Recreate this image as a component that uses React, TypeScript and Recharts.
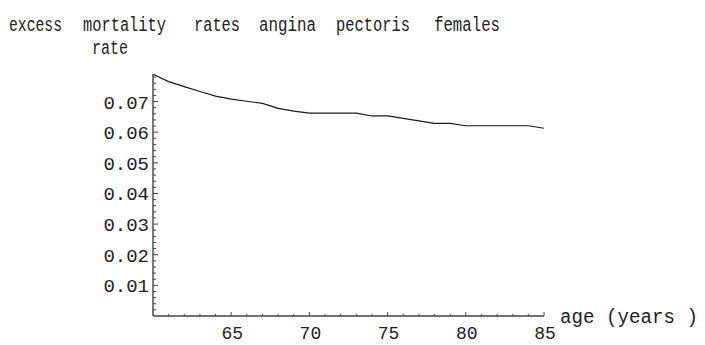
import { LineChart, Line, XAxis, YAxis } from "recharts";

// yearly excess mortality rate, ages 60..85
const ages = [60, 61, 62, 63, 64, 65, 66, 67, 68, 69, 70, 71, 72, 73, 74, 75, 76, 77, 78, 79, 80, 81, 82, 83, 84, 85];
const rates = [
  0.0789, 0.0765, 0.0749, 0.0733, 0.0718, 0.0708, 0.0701, 0.0694, 0.0678, 0.0669,
  0.0662, 0.0662, 0.0662, 0.0662, 0.0653, 0.0653, 0.0645, 0.0637, 0.0629, 0.0629,
  0.0621, 0.0621, 0.0621, 0.0621, 0.0621, 0.0613,
];

const xLabelTicks = [65, 70, 75, 80, 85];
const yLabelTicks = [0.01, 0.02, 0.03, 0.04, 0.05, 0.06, 0.07];

const titleWords = ["excess", "mortality", "rates", "angina", "pectoris", "females"];
const yTitle = "rate";
const xTitle = "age (years )";

const data = ages.map((age, i) => ({ age, rate: rates[i] }));

// every year gets a tick, every 0.002 on the rate axis
const xTicks = ages.slice(1);
const yTicks: number[] = [];
for (let i = 1; i <= 39; i++) yTicks.push(+(i * 0.002).toFixed(3));

const FONT = "'Liberation Mono', monospace";
const AXIS = "#444";
const INK = "#222";

const isMajorY = (v: number) => yLabelTicks.some((t) => Math.abs(t - v) < 1e-6);

const YTick = ({ x, y, payload }: any) => {
  const major = isMajorY(payload.value);
  return (
    <g>
      <line x1={x} y1={y} x2={x + (major ? 5 : 3)} y2={y} stroke={AXIS} strokeWidth={1} />
      {major && (
        <text x={x - 4} y={y + 7} textAnchor="end" fontFamily={FONT} fontSize={19} fill={INK}>
          {payload.value.toFixed(2)}
        </text>
      )}
    </g>
  );
};

const XTick = ({ x, y, payload }: any) => {
  const major = xLabelTicks.includes(payload.value);
  return (
    <g>
      <line x1={x} y1={y} x2={x} y2={y - (major ? 4 : 2)} stroke={AXIS} strokeWidth={1} />
      {major && (
        <text x={x + 1} y={y + 23} textAnchor="middle" fontFamily={FONT} fontSize={18} fill={INK}>
          {payload.value}
        </text>
      )}
    </g>
  );
};

// word positions and widths for the spaced-out title line
const titleX = [9, 83, 194, 259, 336, 434];
const titleW = [53, 83, 46, 57, 74, 66];

export default function App() {
  return (
    <div style={{ position: "relative", width: 705, height: 345, background: "#fff" }}>
      <style>{"body{margin:0}"}</style>
      <LineChart width={705} height={345} data={data} margin={{ top: 74, right: 161, bottom: 0, left: 0 }}>
        <XAxis
          dataKey="age"
          type="number"
          domain={[60, 85]}
          ticks={xTicks}
          interval={0}
          height={29}
          tickSize={0}
          tickMargin={0}
          tickLine={false}
          tick={<XTick />}
          axisLine={{ stroke: AXIS, strokeWidth: 1.4 }}
        />
        <YAxis
          type="number"
          domain={[0, 0.079]}
          ticks={yTicks}
          interval={0}
          width={153}
          tickSize={0}
          tickMargin={0}
          tickLine={false}
          tick={<YTick />}
          axisLine={{ stroke: AXIS, strokeWidth: 1.4 }}
        />
        <Line
          dataKey="rate"
          type="linear"
          stroke="#1a1a1a"
          strokeWidth={1.2}
          dot={false}
          isAnimationActive={false}
        />
      </LineChart>
      <svg width={705} height={345} style={{ position: "absolute", left: 0, top: 0, pointerEvents: "none" }}>
        <g fontFamily={FONT} fontSize={20} fill={INK}>
          {titleWords.map((w, i) => (
            <text key={w} x={titleX[i]} y={31} textLength={titleW[i]} lengthAdjust="spacingAndGlyphs">
              {w}
            </text>
          ))}
          <text x={92} y={54} textLength={36} lengthAdjust="spacingAndGlyphs">
            {yTitle}
          </text>
          <text x={560} y={323} textLength={138} lengthAdjust="spacingAndGlyphs">
            {xTitle}
          </text>
        </g>
      </svg>
    </div>
  );
}
